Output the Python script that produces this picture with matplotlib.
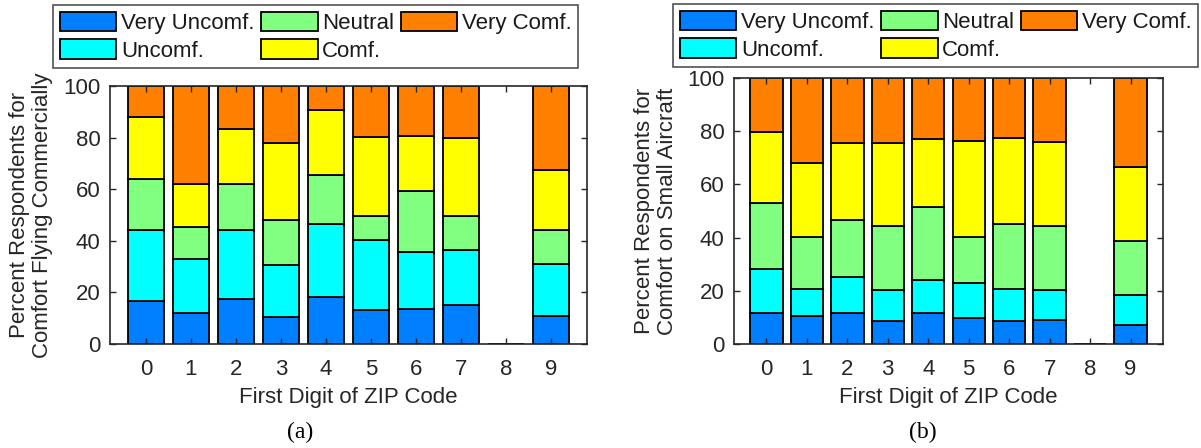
import numpy as np
import matplotlib
matplotlib.use('Agg')
import matplotlib.pyplot as plt

plt.rcParams['font.family'] = ['Liberation Sans', 'DejaVu Sans']

# Survey categories, bottom to top of each stacked bar
categories = ['Very Uncomf.', 'Uncomf.', 'Neutral', 'Comf.', 'Very Comf.']
colors = ['#0080FF', '#00FFFF', '#80FF80', '#FFFF00', '#FF8000']
zip_digits = np.arange(10)

# Percent of respondents per first ZIP digit (digit 8 has no responses)
commercial = {
    'Very Uncomf.': [16.7, 12.1, 17.6, 10.3, 18.4, 13.1, 13.5, 15.3, 0, 10.9],
    'Uncomf.':      [27.3, 20.7, 26.6, 20.5, 28.0, 27.4, 22.0, 21.1, 0, 20.2],
    'Neutral':      [19.9, 12.7, 17.9, 17.4, 19.0, 9.0, 23.9, 13.2, 0, 13.0],
    'Comf.':        [23.9, 16.6, 21.4, 29.7, 25.2, 30.7, 21.2, 30.1, 0, 23.4],
    'Very Comf.':   [12.2, 37.9, 16.5, 22.1, 9.4, 19.8, 19.4, 20.3, 0, 32.5],
}
small_aircraft = {
    'Very Uncomf.': [11.5, 10.7, 11.7, 8.5, 11.5, 9.6, 8.5, 9.0, 0, 7.3],
    'Uncomf.':      [16.8, 10.0, 13.6, 11.8, 12.5, 13.2, 12.0, 11.3, 0, 11.0],
    'Neutral':      [24.6, 19.5, 21.5, 23.9, 27.6, 17.4, 24.5, 24.0, 0, 20.3],
    'Comf.':        [26.9, 27.7, 28.7, 31.3, 25.6, 36.0, 32.3, 31.5, 0, 28.0],
    'Very Comf.':   [20.2, 32.1, 24.5, 24.5, 22.8, 23.8, 22.7, 24.2, 0, 33.4],
}

W, H = 1201, 448
fig = plt.figure(figsize=(W / 100, H / 100), dpi=100)
TXT = '#262626'
FS = 16


def px_axes(left, top, right, bottom):
    return fig.add_axes([left / W, 1 - bottom / H, (right - left) / W, (bottom - top) / H])


def stacked(ax, data):
    bottom = np.zeros(len(zip_digits))
    handles = []
    for cat, col in zip(categories, colors):
        vals = np.array(data[cat])
        h = ax.bar(zip_digits, vals, width=0.8, bottom=bottom, color=col,
                   edgecolor='black', linewidth=1.3, label=cat)
        bottom += vals
        handles.append(h)
    ax.set_xlim(-0.8, 9.8)
    ax.set_ylim(0, 100)
    ax.set_xticks(zip_digits)
    ax.set_yticks(np.arange(0, 101, 20))
    ax.tick_params(direction='in', length=4, width=1, colors=TXT, labelsize=FS,
                   top=True, right=True)
    ax.tick_params(axis='x', pad=11)
    ax.tick_params(axis='y', pad=7)
    for s in ax.spines.values():
        s.set_color(TXT)
        s.set_linewidth(1.2)
    return handles


def add_legend(ax, handles, x0, y0):
    leg = ax.legend(handles=handles, ncol=3, loc='upper left',
                    bbox_to_anchor=(x0 / W, 1 - y0 / H), bbox_transform=fig.transFigure,
                    fontsize=FS, frameon=True, fancybox=False, handlelength=2.55,
                    handleheight=0.95, handletextpad=0.2, columnspacing=0.3,
                    labelspacing=0.25, borderpad=0.3, borderaxespad=0)
    leg.get_frame().set_edgecolor(TXT)
    leg.get_frame().set_linewidth(1.2)
    for t in leg.get_texts():
        t.set_color('#1a1a1a')


ax1 = px_axes(110, 86, 587, 344)
h1 = stacked(ax1, commercial)
add_legend(ax1, h1, 53, 5)

ax2 = px_axes(734, 78, 1163, 344)
h2 = stacked(ax2, small_aircraft)
add_legend(ax2, h2, 673, 4)

fig.text(31 / W, 1 - 215 / H, 'Percent Respondents for\nComfort Flying Commercially',
         rotation=90, ha='center', va='center', fontsize=FS, color=TXT, linespacing=1.1)
fig.text(656 / W, 1 - 211 / H, 'Percent Respondents for\nComfort on Small Aircraft',
         rotation=90, ha='center', va='center', fontsize=FS, color=TXT, linespacing=1.1)

fig.text(348.5 / W, 1 - 398 / H, 'First Digit of ZIP Code', ha='center', va='center',
         fontsize=FS, color=TXT)
fig.text(948.5 / W, 1 - 398 / H, 'First Digit of ZIP Code', ha='center', va='center',
         fontsize=FS, color=TXT)

fig.text(300 / W, 1 - 432 / H, '(a)', ha='center', va='center', fontsize=17,
         family='Liberation Serif', color='black')
fig.text(923 / W, 1 - 432 / H, '(b)', ha='center', va='center', fontsize=17,
         family='Liberation Serif', color='black')

fig.savefig('out.png', dpi=100)
